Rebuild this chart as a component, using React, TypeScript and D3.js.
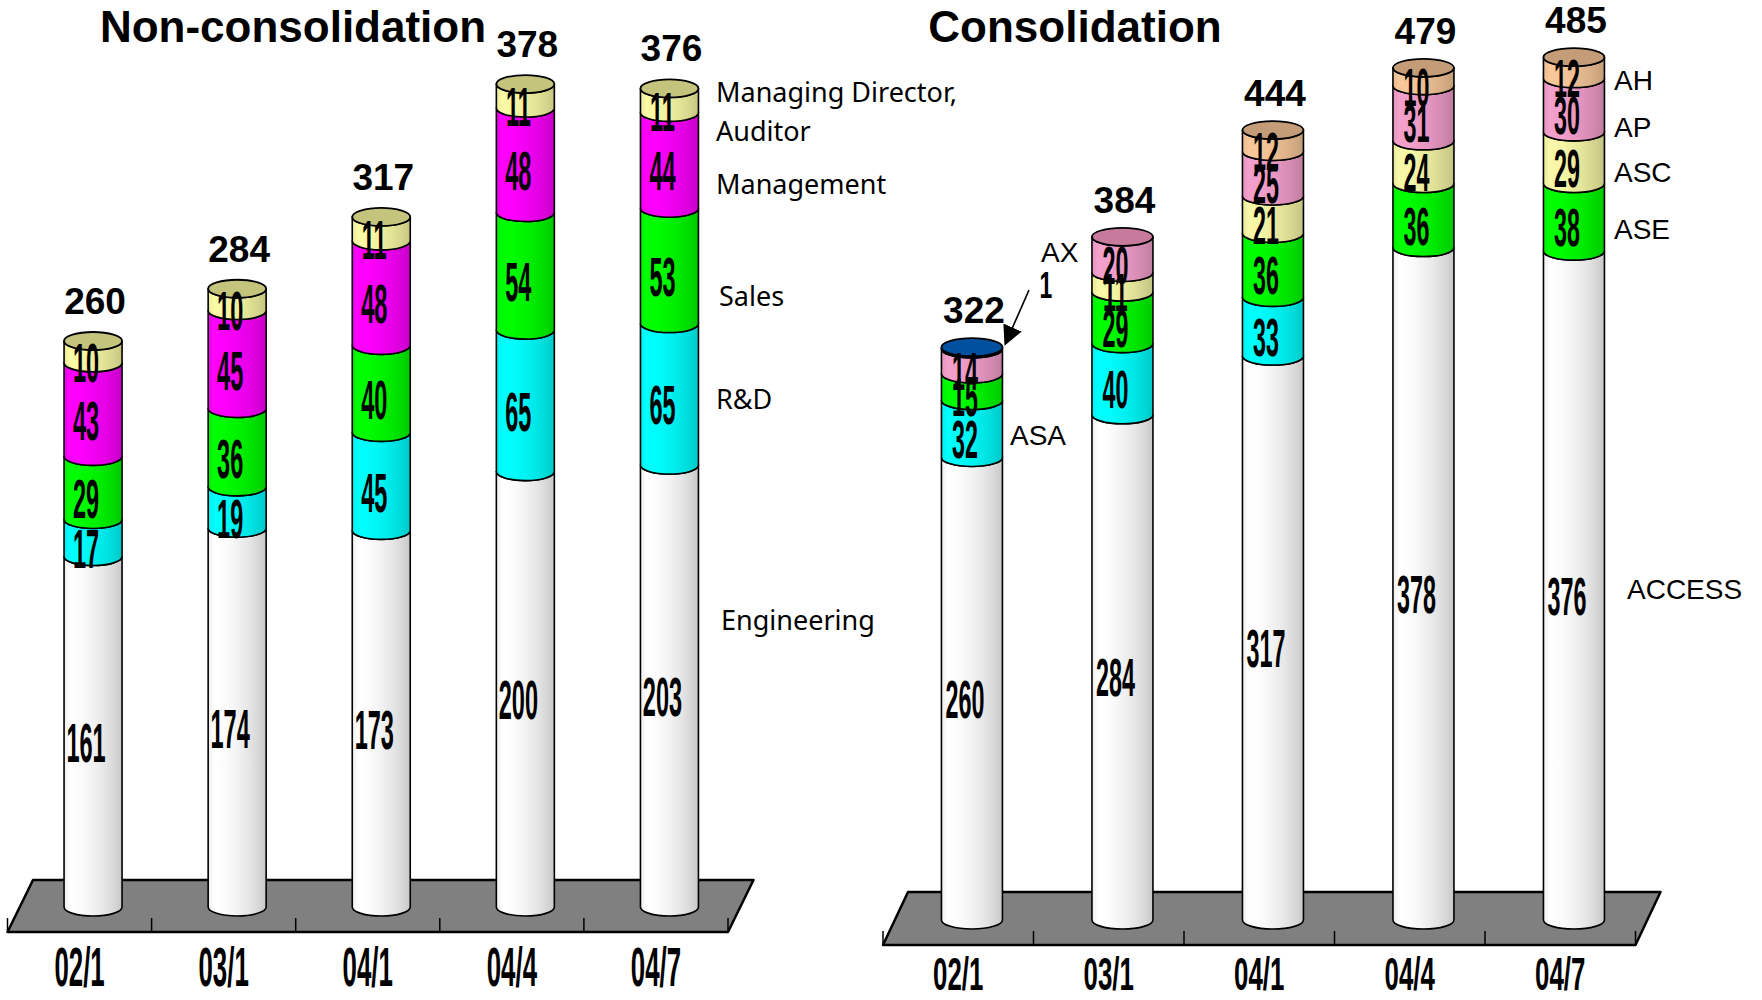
import React from 'react';
import * as d3 from 'd3';

// Survey dates (year/month)
const periods = ['02/1', '03/1', '04/1', '04/4', '04/7'];

// Non-consolidated headcount by department
const deptNames = ['Engineering', 'R&D', 'Sales', 'Management', 'Managing Director, Auditor'];
const engineering = [161, 174, 173, 200, 203];
const rnd = [17, 19, 45, 65, 65];
const sales = [29, 36, 40, 54, 53];
const management = [43, 45, 48, 48, 44];
const directors = [10, 10, 11, 11, 11];

// Consolidated headcount by group company
const companyNames = ['ACCESS', 'ASA', 'ASE', 'ASC', 'AP', 'AH', 'AX'];
const access = [260, 284, 317, 378, 376];
const asa = [32, 40, 33, 0, 0];
const ase = [15, 29, 36, 36, 38];
const asc = [0, 11, 21, 24, 29];
const ap = [14, 20, 25, 31, 30];
const ah = [0, 0, 12, 10, 12];
const ax = [1, 0, 0, 0, 0];

const deptValues = [engineering, rnd, sales, management, directors];
const companyValues = [access, asa, ase, asc, ap, ah, ax];

// Fill colours: side colour (brightest band) and the darker top face
const palette: Record<string, { side: string; cap: string }> = {
  Engineering: { side: '#ffffff', cap: '#d8d8d8' },
  'R&D': { side: '#00ffff', cap: '#00c0c0' },
  Sales: { side: '#00ff00', cap: '#00c000' },
  Management: { side: '#ff00ff', cap: '#c000c0' },
  'Managing Director, Auditor': { side: '#fbfba6', cap: '#c4c47c' },
  ACCESS: { side: '#ffffff', cap: '#d8d8d8' },
  ASA: { side: '#00ffff', cap: '#00c0c0' },
  ASE: { side: '#00ff00', cap: '#00c000' },
  ASC: { side: '#f8f8a8', cap: '#c4c47c' },
  AP: { side: '#f4a0cc', cap: '#c87a9c' },
  AH: { side: '#f8c89a', cap: '#c49c78' },
  AX: { side: '#0050a0', cap: '#0050a0' },
};

type SeriesLabel = { text: string; x: number; y: number };

type PanelLayout = {
  title: string;
  titleX: number;
  floorTop: number;
  floorBottom: number;
  floorLeft: number;
  floorRight: number;
  skew: number;
  base: number;
  domainMax: number;
  rangeTop: number;
  rx: number;
  barShift: number;
  catBaseline: number;
  catSize: number;
  catScale: number;
  segSize: number;
  segScale: number;
  totalGap: number;
  labelFont: string;
  labelSize: number;
  seriesLabels: SeriesLabel[];
};

const RY = 9;

const leftLayout: PanelLayout = {
  title: 'Non-consolidation',
  titleX: 293,
  floorTop: 880,
  floorBottom: 932,
  floorLeft: 7.5,
  floorRight: 728,
  skew: 25.5,
  base: 907,
  domainMax: 400,
  rangeTop: 907 - 400 * 2.177,
  rx: 29,
  barShift: 13.5,
  catBaseline: 986,
  catSize: 55,
  catScale: 0.47,
  segSize: 56,
  segScale: 0.42,
  totalGap: 18,
  labelFont: '"Noto Sans", sans-serif',
  labelSize: 27,
  seriesLabels: [
    { text: 'Managing Director,', x: 716, y: 102 },
    { text: 'Auditor', x: 716, y: 141 },
    { text: 'Management', x: 716, y: 194 },
    { text: 'Sales', x: 719, y: 306 },
    { text: 'R&D', x: 716, y: 409 },
    { text: 'Engineering', x: 721, y: 630 },
  ],
};

const rightLayout: PanelLayout = {
  title: 'Consolidation',
  titleX: 1075,
  floorTop: 892,
  floorBottom: 945,
  floorLeft: 883,
  floorRight: 1635.5,
  skew: 25,
  base: 920,
  domainMax: 500,
  rangeTop: 920 - 500 * 1.779,
  rx: 30.5,
  barShift: 13.7,
  catBaseline: 990,
  catSize: 47,
  catScale: 0.55,
  segSize: 53,
  segScale: 0.44,
  totalGap: 15,
  labelFont: '"Liberation Sans", Arial, sans-serif',
  labelSize: 28,
  seriesLabels: [
    { text: 'AH', x: 1614, y: 90 },
    { text: 'AP', x: 1614, y: 137 },
    { text: 'ASC', x: 1614, y: 182 },
    { text: 'ASE', x: 1614, y: 239 },
    { text: 'ACCESS', x: 1627, y: 599 },
    { text: 'ASA', x: 1010, y: 445 },
    { text: 'AX', x: 1041, y: 262 },
  ],
};

const NARROW = '"Liberation Sans", Arial, sans-serif';

const gradStops = [
  [0, 0.93],
  [0.1, 1],
  [0.3, 0.99],
  [0.5, 0.95],
  [0.7, 0.9],
  [0.88, 0.84],
  [1, 0.78],
];

const gradId = (name: string) => 'g-' + name.replace(/[^A-Za-z]/g, '');

function Gradients() {
  return (
    <>
      {Object.entries(palette).map(([name, c]) => {
        const rgb = d3.rgb(c.side);
        return (
          <linearGradient key={name} id={gradId(name)} x1="0" x2="1" y1="0" y2="0">
            {gradStops.map(([o, f]) => (
              <stop
                key={o}
                offset={o}
                stopColor={d3.rgb(rgb.r * f, rgb.g * f, rgb.b * f).formatHex()}
              />
            ))}
          </linearGradient>
        );
      })}
    </>
  );
}

function Panel({
  layout,
  names,
  values,
}: {
  layout: PanelLayout;
  names: string[];
  values: number[][];
}) {
  const L = layout;
  const rows = periods.map((p, i) => {
    const r: Record<string, number | string> = { period: p };
    names.forEach((n, k) => (r[n] = values[k][i]));
    return r;
  });
  const stacked = d3.stack<Record<string, number | string>>().keys(names)(rows as any);

  const x = d3.scaleBand<string>().domain(periods).range([L.floorLeft, L.floorRight]).paddingInner(0);
  const y = d3.scaleLinear().domain([0, L.domainMax]).range([L.base, L.rangeTop]);
  const bw = x.bandwidth();

  const floor = [
    [L.floorLeft + L.skew, L.floorTop],
    [L.floorRight + L.skew, L.floorTop],
    [L.floorRight, L.floorBottom],
    [L.floorLeft, L.floorBottom],
  ];
  const tickXs = [...periods.map((p) => x(p)!), L.floorRight];

  const rx = L.rx;

  return (
    <g>
      <text
        x={L.titleX}
        y={42}
        textAnchor="middle"
        fontFamily={NARROW}
        fontWeight="bold"
        fontSize={44}
      >
        {L.title}
      </text>

      <polygon
        points={floor.map((p) => p.join(',')).join(' ')}
        fill="#808080"
        stroke="#000"
        strokeWidth={2.5}
        strokeLinejoin="round"
      />
      {tickXs.map((tx, i) => (
        <line
          key={i}
          x1={tx}
          x2={tx}
          y1={L.floorBottom - 14}
          y2={L.floorBottom}
          stroke="#000"
          strokeWidth={1.5}
        />
      ))}

      {periods.map((p, i) => {
        const cx = x(p)! + bw / 2 + L.barShift;
        const left = cx - rx;
        const right = cx + rx;
        const segs = stacked
          .map((layer) => ({ name: layer.key, v0: layer[i][0], v1: layer[i][1] }))
          .filter((s) => s.v1 > s.v0);
        const top = segs[segs.length - 1];
        const yTop = y(top.v1);
        const total = top.v1;
        return (
          <g key={p}>
            {segs.map((s) => {
              const y0 = y(s.v0);
              const y1 = y(s.v1);
              const d = `M${left},${y1} L${left},${y0} A${rx},${RY} 0 0 0 ${right},${y0} L${right},${y1} A${rx},${RY} 0 0 1 ${left},${y1} Z`;
              return (
                <path
                  key={s.name}
                  d={d}
                  fill={`url(#${gradId(s.name)})`}
                  stroke="#000"
                  strokeWidth={1.6}
                  strokeLinejoin="round"
                />
              );
            })}
            <ellipse
              cx={cx}
              cy={yTop}
              rx={rx}
              ry={RY}
              fill={palette[top.name].cap}
              stroke="#000"
              strokeWidth={1.8}
            />
            {segs.map((s) => {
              const y0 = y(s.v0);
              const y1 = y(s.v1);
              const value = s.v1 - s.v0;
              if (y0 - y1 < 8) {
                // Too thin for an inside label: call it out with an arrow
                return (
                  <g key={s.name + '-lbl'}>
                    <line
                      x1={cx + 57}
                      y1={y1 - 57}
                      x2={cx + 39}
                      y2={y1 - 16}
                      stroke="#000"
                      strokeWidth={1.6}
                      markerEnd="url(#arrowhead)"
                    />
                    <text
                      transform={`translate(${cx + 74},${y1 - 49}) scale(0.62,1)`}
                      textAnchor="middle"
                      fontFamily={NARROW}
                      fontWeight="bold"
                      fontSize={37}
                    >
                      {value}
                    </text>
                  </g>
                );
              }
              const mid = (y0 + y1) / 2;
              return (
                <text
                  key={s.name + '-lbl'}
                  transform={`translate(${cx - 7},${mid + 10 + L.segSize * 0.36}) scale(${L.segScale},1)`}
                  textAnchor="middle"
                  fontFamily={NARROW}
                  fontWeight="bold"
                  fontSize={L.segSize}
                >
                  {value}
                </text>
              );
            })}
            <text
              x={cx + 2}
              y={yTop - RY - L.totalGap}
              textAnchor="middle"
              fontFamily={NARROW}
              fontWeight="bold"
              fontSize={37}
            >
              {total}
            </text>
            <text
              transform={`translate(${x(p)! + bw / 2},${L.catBaseline}) scale(${L.catScale},1)`}
              textAnchor="middle"
              fontFamily={NARROW}
              fontWeight="bold"
              fontSize={L.catSize}
            >
              {p}
            </text>
          </g>
        );
      })}

      {L.seriesLabels.map((s) => (
        <text key={s.text} x={s.x} y={s.y} fontFamily={L.labelFont} fontSize={L.labelSize}>
          {s.text}
        </text>
      ))}
    </g>
  );
}

export default function App() {
  return (
    <svg
      width={1762}
      height={1000}
      viewBox="0 0 1762 1000"
      style={{ position: 'absolute', left: 0, top: 0, background: '#fff' }}
    >
      <defs>
        <Gradients />
        <marker
          id="arrowhead"
          viewBox="0 0 10 10"
          refX="2"
          refY="5"
          markerWidth="20"
          markerHeight="20"
          markerUnits="userSpaceOnUse"
          orient="auto"
        >
          <path d="M0,0 L10,5 L0,10 Z" fill="#000" />
        </marker>
      </defs>
      <rect width={1762} height={1000} fill="#fff" />
      <Panel layout={leftLayout} names={deptNames} values={deptValues} />
      <Panel layout={rightLayout} names={companyNames} values={companyValues} />
    </svg>
  );
}
